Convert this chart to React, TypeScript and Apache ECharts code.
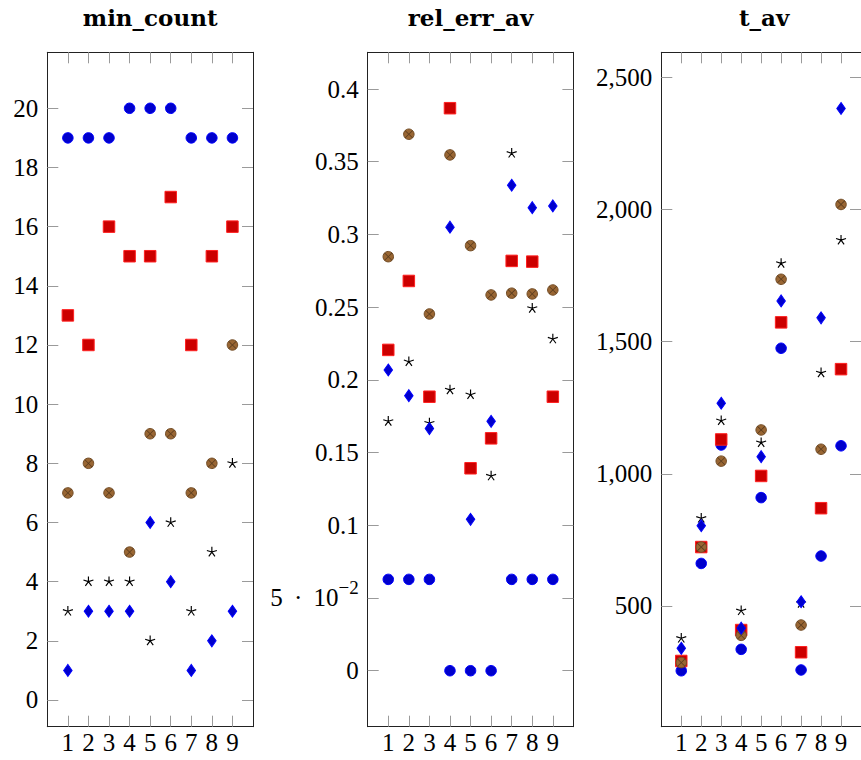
import React, { useEffect, useRef } from "react";
import * as echarts from "echarts";

// ---------- data ----------
const xValues = [1, 2, 3, 4, 5, 6, 7, 8, 9];
const panelTitles = ["min_count", "rel_err_av", "t_av"];

// panel 1: min_count
const minCountCircle = [19, 19, 19, 20, 20, 20, 19, 19, 19];
const minCountSquare = [13, 12, 16, 15, 15, 17, 12, 15, 16];
const minCountOtimes = [7, 8, 7, 5, 9, 9, 7, 8, 12];
const minCountStar = [3, 4, 4, 4, 2, 6, 3, 5, 8];
const minCountDiamond = [1, 3, 3, 3, 6, 4, 1, 2, 3];

// panel 2: rel_err_av
const relErrCircle = [0.0628, 0.0628, 0.0628, 0, 0, 0, 0.0628, 0.0628, 0.0628];
const relErrSquare = [0.2206, 0.268, 0.1884, 0.3868, 0.1392, 0.1598, 0.2818, 0.2813, 0.1884];
const relErrOtimes = [0.2847, 0.3689, 0.2453, 0.3547, 0.2923, 0.2584, 0.2596, 0.2591, 0.2618];
const relErrStar = [0.1715, 0.2125, 0.1703, 0.1931, 0.1898, 0.1339, 0.3558, 0.2492, 0.2281];
const relErrDiamond = [0.2068, 0.1891, 0.1665, 0.305, 0.1041, 0.1715, 0.3338, 0.3184, 0.3196];

// panel 3: t_av
const tAvCircle = [255, 661, 1109, 336, 910, 1475, 258, 689, 1106];
const tAvSquare = [292, 723, 1130, 409, 992, 1573, 325, 870, 1396];
const tAvOtimes = [286, 723, 1048, 389, 1166, 1736, 428, 1093, 2019];
const tAvStar = [378, 832, 1201, 482, 1118, 1796, 510, 1382, 1884];
const tAvDiamond = [340, 804, 1267, 416, 1065, 1654, 516, 1590, 2382];

// tick values / labels
const minCountTicks = [0, 2, 4, 6, 8, 10, 12, 14, 16, 18, 20];
const minCountTickLabels = ["0", "2", "4", "6", "8", "10", "12", "14", "16", "18", "20"];
const relErrTicks = [0, 0.05, 0.1, 0.15, 0.2, 0.25, 0.3, 0.35, 0.4];
const relErrTickLabels = ["0", "{m|5\u2009 · \u200910}{s|−2}", "0.1", "0.15", "0.2", "0.25", "0.3", "0.35", "0.4"];
const tAvTicks = [500, 1000, 1500, 2000, 2500];
const tAvTickLabels = ["500", "1,000", "1,500", "2,000", "2,500"];

// ---------- layout ----------
const FONT = "serif";
const TITLE_FONT = "DejaVu Serif";
const GRID_TOP = 52.3;
const GRID_H = 674.4;
const GRID_W = 205.7;
const gridLefts = [47.3, 367.7, 661.3];
const yRanges = [
  [-0.9025, 21.893],
  [-0.0385, 0.42524],
  [43.4, 2594.6],
];

function armRect(x1: number, y1: number, x2: number, y2: number, hw: number) {
  const dx = x2 - x1;
  const dy = y2 - y1;
  const len = Math.sqrt(dx * dx + dy * dy);
  const nx = (-dy / len) * hw;
  const ny = (dx / len) * hw;
  const f = (v: number) => v.toFixed(2);
  return `M${f(x1 + nx)} ${f(y1 + ny)}L${f(x2 + nx)} ${f(y2 + ny)}L${f(x2 - nx)} ${f(y2 - ny)}L${f(x1 - nx)} ${f(y1 - ny)}Z`;
}

function starPath() {
  let d = "";
  for (let k = 0; k < 5; k++) {
    const a = (-90 + 72 * k) * (Math.PI / 180);
    d += armRect(50, 50, 50 + 50 * Math.cos(a), 50 + 50 * Math.sin(a), 5.5);
  }
  d += "M50 100L50.01 100L50 100Z";
  return "path://" + d;
}

function crossPath() {
  return "path://" + armRect(0, 0, 100, 100, 5) + armRect(100, 0, 0, 100, 5);
}

const STAR = starPath();
const CROSS = crossPath();

function pair(vals: number[]) {
  return xValues.map((x, i) => [x, vals[i]]);
}

function panelSeries(idx: number, c: number[], s: number[], o: number[], st: number[], d: number[]) {
  const base = { type: "scatter", xAxisIndex: idx * 2, yAxisIndex: idx * 2, silent: true };
  return [
    { ...base, data: pair(c), symbol: "circle", symbolSize: 10.5, itemStyle: { opacity: 1, color: "#0000cc", borderColor: "#0000ff", borderWidth: 1 } },
    { ...base, data: pair(s), symbol: "rect", symbolSize: 11.5, itemStyle: { opacity: 1, color: "#cc0000", borderColor: "#ff2020", borderWidth: 1 } },
    { ...base, data: pair(o), symbol: "circle", symbolSize: 10.5, itemStyle: { opacity: 1, color: "#996633", borderColor: "#734d26", borderWidth: 1 } },
    { ...base, data: pair(o), symbol: CROSS, symbolSize: 8.2, itemStyle: { opacity: 1, color: "#5a3c1e" } },
    { ...base, data: pair(st), symbol: STAR, symbolSize: 10.5, symbolKeepAspect: true, itemStyle: { opacity: 1, color: "#000000" } },
    { ...base, data: pair(d), symbol: "diamond", symbolSize: [8.5, 12], itemStyle: { opacity: 1, color: "#0000cc", borderColor: "#0000ff", borderWidth: 1 } },
  ];
}

function labelFor(ticks: number[], labels: string[]) {
  return (v: number) => {
    for (let i = 0; i < ticks.length; i++) {
      if (Math.abs(ticks[i] - v) < 1e-9 * Math.max(1, Math.abs(v))) return labels[i];
    }
    return "";
  };
}

export default function App() {
  const ref = useRef<HTMLDivElement>(null);

  useEffect(() => {
    document.body.style.margin = "0";
    document.body.style.overflow = "hidden";
    if (!ref.current) return;
    const chart = echarts.init(ref.current, null, { renderer: "svg" });

    const tickSets = [minCountTicks, relErrTicks, tAvTicks];
    const labelSets = [minCountTickLabels, relErrTickLabels, tAvTickLabels];

    const frameLine = { show: true, lineStyle: { color: "#222222", width: 1 } };
    const tickStyle = { color: "#9a9a9a", width: 1 };

    const grid: any[] = [];
    const xAxis: any[] = [];
    const yAxis: any[] = [];
    for (let i = 0; i < 3; i++) {
      grid.push({ left: gridLefts[i], top: GRID_TOP, width: GRID_W, height: GRID_H, containLabel: false });
      const xCommon = {
        type: "value",
        gridIndex: i,
        min: 0,
        max: 10,
        axisLine: { ...frameLine, onZero: false },
        splitLine: { show: false },
        axisTick: { show: true, inside: true, length: 11, customValues: xValues, lineStyle: tickStyle },
      };
      xAxis.push({
        ...xCommon,
        position: "bottom",
        axisLabel: { show: true, customValues: xValues, fontFamily: FONT, fontSize: 25, color: "#000", margin: 3 },
      });
      xAxis.push({ ...xCommon, position: "top", axisLabel: { show: false } });

      const yCommon = {
        type: "value",
        gridIndex: i,
        min: yRanges[i][0],
        max: yRanges[i][1],
        axisLine: { ...frameLine, onZero: false },
        splitLine: { show: false },
        axisTick: { show: true, inside: true, length: 11, customValues: tickSets[i], lineStyle: tickStyle },
      };
      yAxis.push({
        ...yCommon,
        position: "left",
        axisLabel: {
          show: true,
          customValues: tickSets[i],
          formatter: labelFor(tickSets[i], labelSets[i]),
          fontFamily: FONT,
          fontSize: 25,
          color: "#000",
          margin: 9,
          rich: {
            m: { fontFamily: FONT, fontSize: 25, color: "#000" },
            s: { fontFamily: FONT, fontSize: 19, color: "#000", padding: [0, 0, 20, 0] },
          },
        },
      });
      yAxis.push({ ...yCommon, position: "right", axisLabel: { show: false } });
    }

    const centers = gridLefts.map((l) => l + GRID_W / 2);
    const title = panelTitles.map((t, i) => ({
      text: t,
      left: centers[i],
      top: 6,
      textAlign: "center",
      padding: 0,
      textStyle: { fontFamily: TITLE_FONT, fontWeight: "bold", fontSize: 23, color: "#000" },
    }));

    const series = [
      ...panelSeries(0, minCountCircle, minCountSquare, minCountOtimes, minCountStar, minCountDiamond),
      ...panelSeries(1, relErrCircle, relErrSquare, relErrOtimes, relErrStar, relErrDiamond),
      ...panelSeries(2, tAvCircle, tAvSquare, tAvOtimes, tAvStar, tAvDiamond),
    ];

    chart.setOption({
      animation: false,
      backgroundColor: "#ffffff",
      textStyle: { fontFamily: FONT },
      title,
      grid,
      xAxis,
      yAxis,
      series,
    });

    return () => {
      chart.dispose();
    };
  }, []);

  return <div ref={ref} style={{ width: 861, height: 760 }} />;
}
